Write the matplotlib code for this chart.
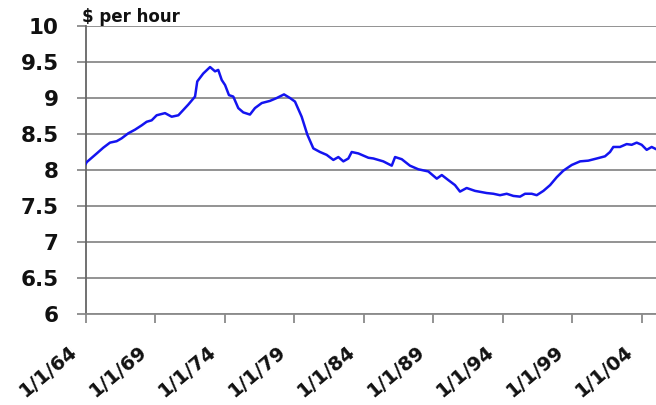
import matplotlib
matplotlib.use("Agg")
import matplotlib.pyplot as plt
import matplotlib.transforms as mtransforms

# data (decimal years, $ per hour)
years = [1964.00, 1964.09, 1964.81, 1965.28, 1965.76, 1966.24, 1966.60, 1967.08,
         1967.56, 1968.04, 1968.40, 1968.76, 1969.12, 1969.72, 1970.20, 1970.68,
         1970.92, 1971.40, 1971.88, 1972.04, 1972.47, 1972.96, 1973.32, 1973.55,
         1973.80, 1974.04, 1974.32, 1974.63, 1974.99, 1975.35, 1975.83, 1976.19,
         1976.68, 1977.27, 1977.76, 1978.28, 1978.71, 1979.07, 1979.55, 1979.96,
         1980.39, 1980.87, 1981.35, 1981.83, 1982.19, 1982.55, 1982.91, 1983.15,
         1983.63, 1983.99, 1984.35, 1984.71, 1985.42, 1986.03, 1986.27, 1986.75,
         1987.34, 1987.94, 1988.66, 1989.27, 1989.63, 1990.10, 1990.58, 1990.94,
         1991.42, 1992.02, 1992.86, 1993.34, 1993.82, 1994.30, 1994.78, 1995.26,
         1995.62, 1996.10, 1996.46, 1996.94, 1997.42, 1997.90, 1998.37, 1998.98,
         1999.58, 2000.17, 2000.78, 2001.37, 2001.73, 2001.97, 2002.45, 2002.93,
         2003.29, 2003.65, 2004.01, 2004.37, 2004.73, 2005.04]
wage = [8.08, 8.11, 8.23, 8.31, 8.38, 8.40, 8.44, 8.51,
        8.56, 8.62, 8.67, 8.69, 8.76, 8.79, 8.74, 8.76,
        8.81, 8.91, 9.02, 9.23, 9.34, 9.43, 9.37, 9.39,
        9.25, 9.18, 9.04, 9.02, 8.86, 8.80, 8.77, 8.86,
        8.93, 8.96, 9.00, 9.05, 9.00, 8.95, 8.74, 8.49,
        8.30, 8.25, 8.21, 8.14, 8.18, 8.12, 8.16, 8.25,
        8.23, 8.20, 8.17, 8.16, 8.12, 8.06, 8.18, 8.15,
        8.06, 8.01, 7.98, 7.88, 7.93, 7.86, 7.79, 7.70,
        7.75, 7.71, 7.68, 7.67, 7.65, 7.67, 7.64, 7.63,
        7.67, 7.67, 7.65, 7.71, 7.79, 7.90, 7.99, 8.07,
        8.12, 8.13, 8.16, 8.19, 8.25, 8.32, 8.32, 8.36,
        8.35, 8.38, 8.35, 8.28, 8.32, 8.29]

tick_years = [1964, 1969, 1974, 1979, 1984, 1989, 1994, 1999, 2004]
tick_labels = ["1/1/64", "1/1/69", "1/1/74", "1/1/79", "1/1/84",
               "1/1/89", "1/1/94", "1/1/99", "1/1/04"]
y_ticks = [6, 6.5, 7, 7.5, 8, 8.5, 9, 9.5, 10]
y_labels = ["6", "6.5", "7", "7.5", "8", "8.5", "9", "9.5", "10"]

plt.rcParams['font.family'] = ['DejaVu Sans']
grid_col = '#8a8a8a'

fig = plt.figure(figsize=(6.56, 4.05), dpi=100)
ax = fig.add_axes([85.5/656, 91/405, 570.5/656, 288/405])

ax.plot(years, wage, color='#1414f0', lw=1.8, zorder=3)

ax.set_xlim(1964, 2005.04)
ax.set_ylim(6, 10)
ax.set_yticks(y_ticks)
ax.set_yticklabels(y_labels, fontsize=15.5, fontweight='bold', color='#111111')
ax.set_xticks(tick_years)
ax.set_xticklabels(tick_labels, fontsize=14, fontweight='bold', color='#111111',
                   rotation=40, ha='right', va='top', rotation_mode='anchor')
ax.yaxis.grid(True, color=grid_col, lw=1.3)
ax.set_axisbelow(True)

for s in ['top', 'right']:
    ax.spines[s].set_visible(False)
ax.spines['left'].set_color('#666666')
ax.spines['left'].set_linewidth(1.3)
ax.spines['bottom'].set_color(grid_col)
ax.spines['bottom'].set_linewidth(1.3)
ax.tick_params(axis='both', direction='out', length=6.2, width=1.3, color=grid_col)
ax.tick_params(axis='y', pad=13)
ax.tick_params(axis='x', pad=14)

shift = mtransforms.ScaledTranslation(-17/100, 0, fig.dpi_scale_trans)
for lbl in ax.get_xticklabels():
    lbl.set_transform(lbl.get_transform() + shift)

fig.text(82/656, 1 - 17/405, "$ per hour", fontsize=12, fontweight='bold',
         color='#111111', va='center', ha='left')

fig.savefig("out.png", dpi=100)
